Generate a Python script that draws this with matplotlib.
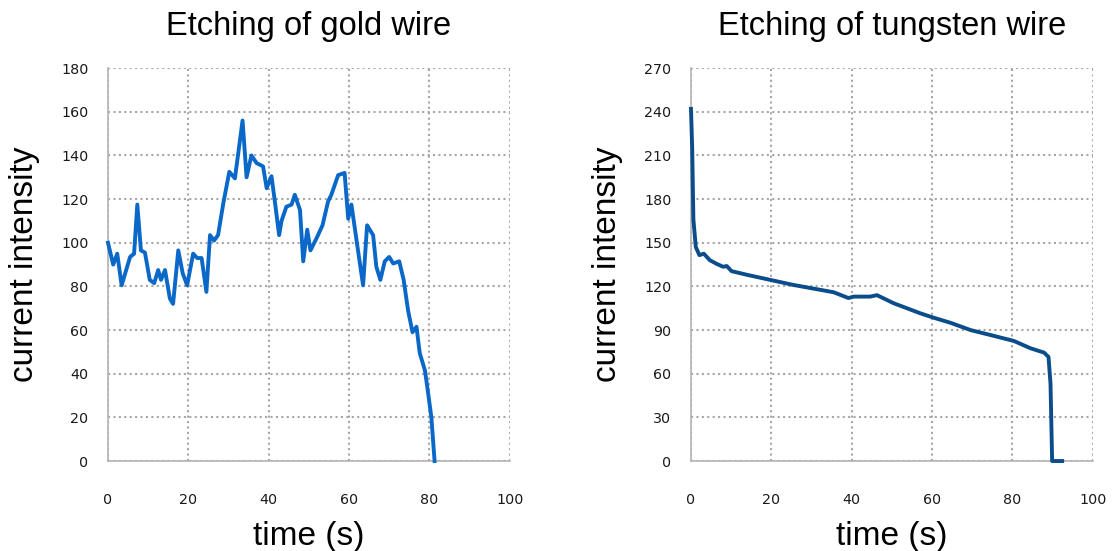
#!/usr/bin/env python3
"""Current intensity during etching of gold and tungsten wires."""

import matplotlib
matplotlib.use("Agg")
import matplotlib.pyplot as plt

GOLD_TIME = [0, 1.3, 2.3, 3.4, 5.5, 6.5, 7.3, 8.2, 9.2, 10.4, 11.5, 12.5, 13.2, 14.2,
             15.4, 16.2, 17.5, 18.6, 19.7, 21.2, 22.2, 23.3, 24.5, 25.4, 26.4, 27.4,
             28.7, 30.2, 31.6, 33.5, 34.5, 35.7, 37.0, 38.6, 39.5, 40.7, 41.5, 42.6,
             43.2, 44.4, 45.7, 46.5, 47.8, 48.6, 49.6, 50.4, 51.9, 53.4, 54.8, 55.6,
             57.3, 58.9, 59.8, 60.6, 62.0, 63.5, 64.5, 66.0, 66.8, 67.8, 68.9, 70.0,
             71.0, 72.5, 73.6, 74.7, 75.8, 76.8, 77.6, 78.9, 79.7, 80.5, 81.3]
GOLD_CURRENT = [100, 90, 95, 80.5, 93.5, 95, 117.5, 96.5, 95.5, 83, 81.5, 87.5, 83, 87.5,
                74.5, 72, 96.5, 86, 80.5, 95, 93, 93, 77.5, 103.5, 101, 103.5,
                118, 132.5, 129.5, 156, 130, 140, 136.5, 135, 125, 130.5, 119.5, 103.5,
                110, 116.5, 117.5, 122, 115, 91.5, 106, 96.5, 102, 108, 119, 122,
                131, 132, 111, 117.5, 99.5, 80.5, 108, 103.5, 89, 83, 91.5, 93.5,
                90.5, 91.5, 83, 69, 59, 61.5, 49.5, 41.5, 31, 20, 0]

TUNGSTEN_TIME = [0, 0.3, 0.6, 1.2, 2.1, 3.2, 4.7, 6.4, 8.0, 8.9, 10.1, 13.9, 19.7,
                 25.5, 30.5, 35.5, 39.2, 40.5, 44.6, 46.3, 50.4, 57.1, 60.4, 64.6,
                 69.6, 75.4, 80.4, 84.5, 87.9, 89.0, 89.5, 89.9, 92.4]
TUNGSTEN_CURRENT = [242, 215, 166, 147, 141.5, 142.5, 138, 135.5, 133.5, 134, 130.5,
                    128, 124.5, 121, 118.5, 116, 112, 113, 113, 114, 108.5, 101.5,
                    98.5, 95, 90, 86, 82.5, 77.5, 74.5, 71.5, 53, 0, 0]

PANELS = [
    ("Etching of gold wire", GOLD_TIME, GOLD_CURRENT, "#0a68c8", 180, 20, 0.0965),
    ("Etching of tungsten wire", TUNGSTEN_TIME, TUNGSTEN_CURRENT, "#0b4c8a", 270, 30, 0.6175),
]

plt.rcParams["font.family"] = ["Liberation Sans", "DejaVu Sans"]
fig = plt.figure(figsize=(11.19, 5.51), dpi=100)

for title, t, y, color, ymax, ystep, left in PANELS:
    ax = fig.add_axes([left, 0.1633, 0.359, 0.713])
    ax.plot(t, y, color=color, lw=2.8, solid_joinstyle="round", clip_on=False, zorder=3)
    ax.set_xlim(0, 100)
    ax.set_ylim(0, ymax)
    ax.set_xticks(range(0, 101, 20))
    ax.set_yticks(range(0, ymax + 1, ystep))
    ax.grid(True, color="#a6a6a6", linestyle=(0, (1, 1.6)), lw=1.5)
    for side in ("top", "right"):
        ax.spines[side].set_visible(False)
    for side in ("left", "bottom"):
        ax.spines[side].set_color("#b4b4b4")
        ax.spines[side].set_linewidth(1.2)
    ax.tick_params(length=0, labelsize=10.3, colors="#1a1a1a", labelfontfamily="DejaVu Sans")
    ax.tick_params(axis="x", pad=23)
    ax.tick_params(axis="y", pad=14)
    ax.set_title(title, fontsize=23.5, pad=24)
    ax.set_xlabel("time (s)", fontsize=24, labelpad=10)
    ax.set_ylabel("current intensity", fontsize=24)
    ax.yaxis.set_label_coords(-0.17, 0.5)

fig.savefig("out.png", dpi=100)
